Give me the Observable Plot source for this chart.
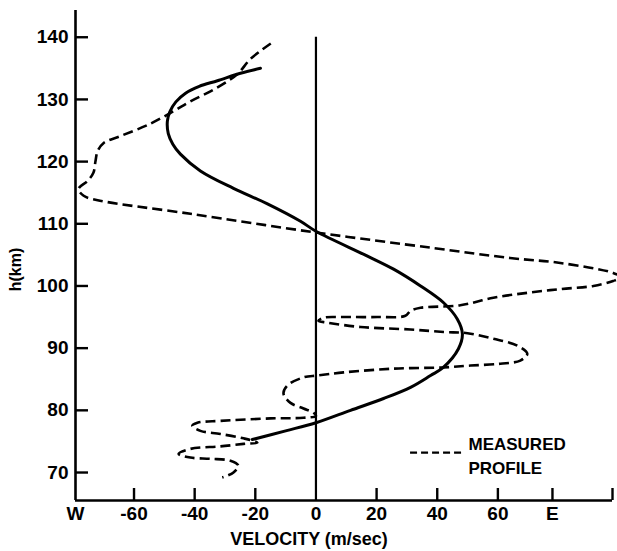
<!DOCTYPE html>
<html>
<head>
<meta charset="utf-8">
<script src="https://cdn.jsdelivr.net/npm/d3@7"></script>
<script src="https://cdn.jsdelivr.net/npm/@observablehq/plot@0.6"></script>
<style>
  html, body { margin: 0; padding: 0; background: #fff; }
</style>
</head>
<body>
<div id="chart"></div>
<script>
// Model (solid) profile: velocity (m/s, + = east) vs height (km)
const modelVelocity = [-18.3, -24.9, -32.5, -38.5, -43.0, -46.2, -48.2, -49.0, -48.7, -47.2, -44.7, -38.1, -27.2, -16.0, -5.1, 0, 17, 25.6, 34.5, 42.1, 46.6, 48.3, 47.0, 42.0, 37.8, 31.2, 22.3, 11.4, 0, -10, -21];
const modelHeight   = [135.0, 134.2, 133.0, 132.1, 131.0, 129.6, 128.0, 126.5, 124.5, 122.8, 121.2, 118.5, 115.7, 113.2, 110.4, 108.8, 104.8, 102.7, 100.0, 97.3, 94.7, 92.3, 89.9, 86.9, 85.6, 83.7, 81.9, 80.0, 78.0, 76.7, 75.3];

// Measured (dashed) profile
const measuredVelocity = [-14.9, -21.6, -25.6, -29.2, -34.8, -41.4, -47.0, -55.0, -64.5, -70.0, -72.0, -72.7, -73.4, -75.3, -78.3, -76.6, -72.0, -41.4, 0, 38.7, 64.0, 80.6, 98.0, 100.5, 98.0, 91.5, 80.6, 69.7, 58.5, 47.6, 34.5, 31.2, 29.5, 20.3, 9.1, 2.5, 0.8, 3.8, 14.7, 31.2, 42.1, 50.0, 58.5, 66.4, 69.7, 67.4, 60.8, 51.0, 42.1, 25.6, 9.1, 0.5, -4.1, -9.4, -10.7, -8.4, -4.1, -0.8, 0, -4.1, -15.0, -31.5, -39.1, -40.8, -38.1, -31.5, -23.9, -19.3, -23.9, -31.5, -41.4, -45.3, -41.4, -34.8, -28.2, -25.6, -27.2, -30.9];
const measuredHeight   = [139.0, 136.5, 134.2, 132.9, 131.3, 129.7, 128.1, 126.0, 124.1, 123.0, 121.7, 120.1, 118.2, 116.9, 115.6, 114.5, 113.8, 111.6, 108.6, 106.1, 104.5, 103.7, 102.1, 101.4, 100.8, 100.0, 99.5, 98.9, 98.1, 96.9, 96.5, 96.0, 95.2, 95.0, 95.0, 94.9, 94.4, 94.1, 93.4, 93.0, 92.6, 92.4, 91.5, 90.4, 89.1, 88.0, 87.5, 87.2, 86.9, 86.7, 86.1, 85.6, 85.3, 84.0, 82.7, 81.2, 80.3, 79.6, 79.1, 78.8, 78.7, 78.3, 78.0, 77.5, 76.7, 76.2, 75.5, 74.8, 74.6, 74.2, 73.8, 73.0, 72.4, 72.2, 71.9, 71.1, 70.0, 69.2];

// Axes
const xMin = -79.3, xMax = 97.8;
const yMin = 65.5, yMax = 144.3;
const zeroLineTop = 140;
const xTickValues = [-79.3, -60, -40, -20, 0, 20, 40, 60, 78];
const xTickLabels = ["W", "-60", "-40", "-20", "0", "20", "40", "60", "E"];
const xTickMarks  = [-60, -40, -20, 20, 40, 60, 78, 97.8];
const yTickValues = [70, 80, 90, 100, 110, 120, 130, 140];
const yTickLabels = ["70", "80", "90", "100", "110", "120", "130", "140"];
const xTitle = "VELOCITY (m/sec)";
const yTitle = "h(km)";

// Legend
const legendLabels = ["MEASURED", "PROFILE"];
const legendLineX = [31.2, 49.3];
const legendLineY = 73.2;
const legendTextX = 50.3;
const legendTextY = [74.45, 70.7];

const model = modelVelocity.map((v, i) => ({v, h: modelHeight[i]}));
const measured = measuredVelocity.map((v, i) => ({v, h: measuredHeight[i]}));

const W = 617, H = 551;
const mL = 75, mR = 5, mT = 10, mB = 51;
const plotW = W - mL - mR, plotH = H - mT - mB;
const font = "'Liberation Sans', Arial, Helvetica, sans-serif";

const chart = Plot.plot({
  width: W,
  height: H,
  marginLeft: mL,
  marginRight: mR,
  marginTop: mT,
  marginBottom: mB,
  style: {fontFamily: font, fontWeight: "bold", color: "#000", background: "#fff", overflow: "visible"},
  x: {domain: [xMin, xMax], axis: null},
  y: {domain: [yMin, yMax], axis: null},
  marks: [
    // frame: left & bottom axis lines
    Plot.ruleX([xMin], {stroke: "#000", strokeWidth: 2.6}),
    Plot.ruleY([yMin], {stroke: "#000", strokeWidth: 2.6}),
    // zero line
    Plot.ruleX([0], {y1: yMin, y2: zeroLineTop, stroke: "#000", strokeWidth: 2.2}),
    // inward ticks
    Plot.tickY(yTickValues, {y: d => d, insetRight: plotW - 13, stroke: "#000", strokeWidth: 2.4}),
    Plot.tickX(xTickMarks, {x: d => d, insetTop: plotH - 12, stroke: "#000", strokeWidth: 2.4}),
    // tick labels
    Plot.text(yTickValues, {y: d => d, text: (d, i) => yTickLabels[i], frameAnchor: "left", textAnchor: "end", dx: -7, fontSize: 19, fontWeight: "bold", fill: "#000"}),
    Plot.text(xTickValues, {x: d => d, text: (d, i) => xTickLabels[i], frameAnchor: "bottom", dy: 19, fontSize: 19, fontWeight: "bold", fill: "#000"}),
    // axis titles
    Plot.text([xTitle], {frameAnchor: "bottom", textAnchor: "middle", dx: -35, dy: 44, fontSize: 18, fontWeight: "bold", fill: "#000", letterSpacing: "1px"}),
    Plot.text([yTitle], {frameAnchor: "left", textAnchor: "middle", rotate: -90, dx: -60, dy: 14, fontSize: 16, fontWeight: "bold", fill: "#000"}),
    // profiles
    Plot.line(model, {x: "v", y: "h", curve: "catmull-rom", stroke: "#000", strokeWidth: 3}),
    Plot.line(measured, {x: "v", y: "h", curve: "catmull-rom", stroke: "#000", strokeWidth: 2.6, strokeDasharray: "10,5", strokeLinecap: "butt"}),
    // legend
    Plot.ruleY([legendLineY], {x1: legendLineX[0], x2: legendLineX[1], stroke: "#000", strokeWidth: 2.4, strokeDasharray: "7,4"}),
    Plot.text(legendLabels, {x: legendTextX, y: (d, i) => legendTextY[i], text: d => d, textAnchor: "start", fontSize: 17, fontWeight: "bold", fill: "#000", letterSpacing: "-0.5px"})
  ]
});
document.getElementById("chart").appendChild(chart);
</script>
</body>
</html>
